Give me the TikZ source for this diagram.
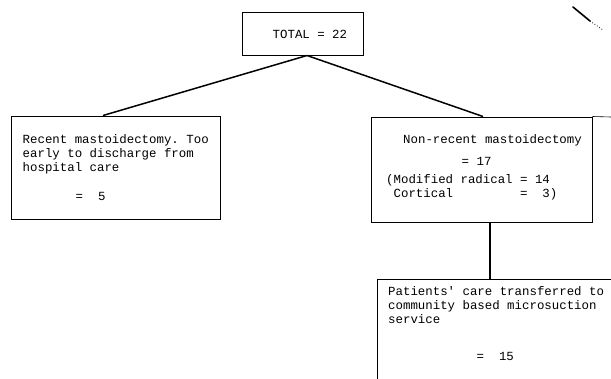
\documentclass[tikz,border=0pt]{standalone}
\usepackage{fontspec}
\setmonofont{Liberation Mono}
\usepackage{tikz}
\usetikzlibrary{positioning}
\tikzset{>=latex}
\tikzstyle{cell} = [rectangle, draw = black, line width = 1pt, inner sep = 0]
\tikzstyle{typed} = [draw = none, inner sep = 0, align = left, font = \ttfamily\fontsize{12.4}{14}\selectfont\frenchspacing]
\tikzstyle{link} = [-, draw = black, line width = 1.5pt]

\begin{document}
\begin{tikzpicture}[x = 1pt, y = -1pt]
\path [use as bounding box] (0, 0) rectangle (611, 378);
\clip (0, 0) rectangle (611, 378);
% boxes
\node [cell, minimum width = 121, minimum height = 43]  (total) at (302.5, 33.5) {};
\node [cell, minimum width = 209, minimum height = 103] (recent) at (115.5, 167.5) {};
\node [cell, minimum width = 221, minimum height = 105] (nonrecent) at (481.5, 169.5) {};
\node [cell, minimum width = 263, minimum height = 141] (transfer) at (508.5, 349.5) {};
\coordinate (rim) at (611, 117);
% texts (base = last line)
\node [typed, anchor = base west] (totaltxt) at (272.5, 38) {TOTAL = 22};
\node [typed, anchor = base west] (recenttxt) at (22.5, 171) {Recent mastoidectomy. Too\\early to discharge from\\hospital care};
\node [typed, anchor = base west] (recentnum) at (75.5, 200) {=\hphantom{00}5};
\node [typed, anchor = base west] (nonrecenttxt) at (403, 143) {Non-recent mastoidectomy};
\node [typed, anchor = base west] (nonrecentnum) at (461.5, 165) {= 17};
\node [typed, anchor = base west] (splittxt) at (386, 197) {(Modified radical = 14\\\hphantom{0}Cortical\hphantom{000000000}=\hphantom{00}3)};
\node [typed, anchor = base west] (transfertxt) at (388, 323) {Patients' care transferred to\\community based microsuction\\service};
\node [typed, anchor = base west] (transfernum) at (476.5, 360) {=\hphantom{00}15};
% connectors
\draw [link] ([xshift = 4.5]total.south) to ([xshift = -12.5]recent.north);
\draw [link] ([xshift = 4.5]total.south) to ([xshift = 1.5]nonrecent.north);
\draw [link] ([xshift = 8.5]nonrecent.south) to ([xshift = -18.5]transfer.north);
\draw [-, draw = black, line width = 0.6pt] (nonrecent.north east) to (rim);
% stray mark
\draw [line width = 1.6pt, line cap = round] (573, 7) -- (590, 21);
\draw [dotted, line width = 0.8pt] (590, 21) -- (603, 30);
\end{tikzpicture}
\end{document}
